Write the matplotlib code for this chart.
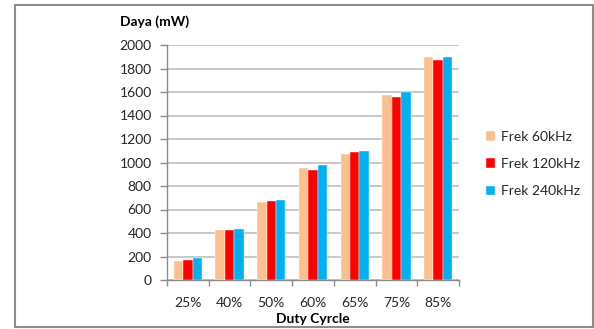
import matplotlib
matplotlib.use("Agg")
import matplotlib.pyplot as plt
from matplotlib.patches import Rectangle
import numpy as np

categories = ["25%", "40%", "50%", "60%", "65%", "75%", "85%"]
series_names = ["Frek 60kHz", "Frek 120kHz", "Frek 240kHz"]
frek_60 = [165, 425, 665, 950, 1075, 1577, 1900]
frek_120 = [173, 425, 672, 933, 1089, 1560, 1870]
frek_240 = [187, 437, 678, 979, 1101, 1600, 1900]
colors = ["#FAC090", "#FF0000", "#00B0F0"]
yticks = [0, 200, 400, 600, 800, 1000, 1200, 1400, 1600, 1800, 2000]

plt.rcParams['font.family'] = ['Lato', 'DejaVu Sans']

fig = plt.figure(figsize=(5.94, 3.29), dpi=100)
fig.patch.set_facecolor("white")
fig.patches.append(Rectangle((15/594, 1-327/329), (593-15)/594, (327-5)/329,
                             transform=fig.transFigure, fill=False,
                             edgecolor="#8C8C8C", linewidth=1.5))

ax = fig.add_axes([167/594, 1-280/329, (459-167)/594, (280-45)/329])
x = np.arange(len(categories))
w = 0.225
for i, (vals, name) in enumerate(zip([frek_60, frek_120, frek_240], series_names)):
    ax.bar(x + (i-1)*w, vals, width=w, color=colors[i], label=name,
           edgecolor="white", linewidth=0.3, zorder=3)

ax.set_xlim(-0.5, len(categories)-0.5)
ax.set_ylim(0, 2000)
ax.set_yticks(yticks)
ax.set_yticklabels([str(v) for v in yticks], fontsize=10, color="#262626")
ax.yaxis.grid(True, color="#BFBFBF", linewidth=1.2, zorder=0)
ax.set_axisbelow(True)

ax.set_xticks(x)
ax.set_xticklabels(categories, fontsize=10, color="#262626")
ax.set_xticks(np.arange(-0.5, len(categories)), minor=True)
ax.tick_params(axis='x', which='major', length=0, pad=12)
ax.tick_params(axis='x', which='minor', length=4, color="#8C8C8C", width=1)
ax.tick_params(axis='y', length=5, color="#8C8C8C", width=1, pad=6)

for s in ["top", "right"]:
    ax.spines[s].set_visible(False)
for s in ["left", "bottom"]:
    ax.spines[s].set_color("#8C8C8C")
    ax.spines[s].set_linewidth(1)

fig.text(120/594, 1-22/329, "Daya (mW)", fontsize=10, fontweight="bold",
         ha="left", va="center", color="#000000")
ax.set_xlabel("Duty Cyrcle", fontsize=10, fontweight="bold", labelpad=3)

leg = ax.legend(loc="center left", bbox_to_anchor=(473/594, 1-164/329),
                bbox_transform=fig.transFigure, frameon=False, fontsize=10,
                handlelength=0.7, handleheight=0.7, labelspacing=1.1,
                handletextpad=0.4)
for t in leg.get_texts():
    t.set_color("#262626")

fig.savefig("out.png", dpi=100)
